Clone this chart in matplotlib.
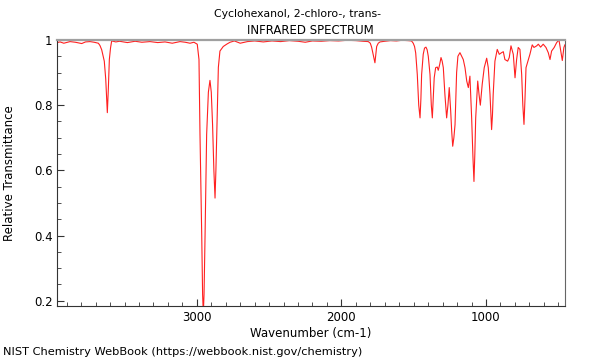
import numpy as np
import matplotlib
matplotlib.use("Agg")
import matplotlib.pyplot as plt
from matplotlib.ticker import MultipleLocator, FormatStrFormatter


# =========================
# Data
# =========================

compound = "Cyclohexanol, 2-chloro-, trans-"
subtitle = "INFRARED SPECTRUM"
footer = "NIST Chemistry WebBook (https://webbook.nist.gov/chemistry)"

wavenumber = [
    3965, 3946, 3920, 3877, 3840, 3796, 3770, 3739, 3710, 3681,
    3670, 3658, 3648, 3640, 3630, 3619, 3612, 3605, 3597, 3589,
    3560, 3535, 3480, 3427, 3380, 3324, 3270, 3220, 3170, 3116,
    3080, 3047, 3020, 2997, 2985, 2978, 2966, 2960, 2955, 2950,
    2943, 2932, 2920, 2909, 2900, 2891, 2882, 2874, 2868, 2862,
    2851, 2840, 2817, 2790, 2770, 2740, 2700, 2650, 2600, 2540,
    2480, 2420, 2360, 2300, 2250, 2200, 2140, 2080, 2020, 1960,
    1900, 1850, 1814, 1800, 1791, 1780, 1768, 1762, 1756, 1745,
    1733, 1700, 1660, 1620, 1580, 1540, 1515, 1503, 1494, 1486,
    1475, 1465, 1456, 1450, 1445, 1434, 1425, 1415, 1407, 1399,
    1387, 1378, 1371, 1364, 1358, 1348, 1337, 1330, 1320, 1311,
    1303, 1295, 1284, 1272, 1263, 1254, 1244, 1237, 1230, 1222,
    1214, 1203, 1194, 1180, 1168, 1157, 1145, 1133, 1122, 1111,
    1099, 1090, 1083, 1077, 1071, 1057, 1048, 1039, 1026, 1012,
    995, 984, 972, 966, 961, 955, 950, 938, 922, 908,
    892, 880, 869, 850, 839, 827, 811, 799, 788, 777,
    765, 753, 745, 737, 730, 723, 707, 696, 680, 668,
    649, 638, 622, 604, 585, 569, 557, 546, 528, 511,
    495, 483, 472, 461, 454,
]

transmittance = [
    0.992, 0.994, 0.990, 0.995, 0.993, 0.989, 0.994, 0.995, 0.993, 0.990,
    0.983, 0.970, 0.950, 0.935, 0.880, 0.777, 0.850, 0.940, 0.975, 0.997,
    0.994, 0.996, 0.992, 0.996, 0.993, 0.995, 0.992, 0.994, 0.990, 0.995,
    0.993, 0.990, 0.993, 0.987, 0.940, 0.710, 0.400, 0.220, 0.160, 0.220,
    0.400, 0.710, 0.840, 0.876, 0.840, 0.740, 0.600, 0.515, 0.600, 0.710,
    0.916, 0.966, 0.980, 0.988, 0.993, 0.997, 0.990, 0.995, 0.997, 0.994,
    0.997, 0.995, 0.998, 0.996, 0.993, 0.997, 0.996, 0.998, 0.997, 0.999,
    0.998, 0.996, 0.995, 0.990, 0.978, 0.955, 0.930, 0.955, 0.980, 0.990,
    0.994, 0.996, 0.998, 0.997, 0.999, 0.998, 0.997, 0.990, 0.980, 0.960,
    0.894, 0.800, 0.761, 0.820, 0.894, 0.956, 0.975, 0.978, 0.970, 0.950,
    0.894, 0.800, 0.761, 0.830, 0.884, 0.915, 0.917, 0.907, 0.925, 0.946,
    0.935, 0.915, 0.833, 0.761, 0.800, 0.854, 0.782, 0.720, 0.674, 0.700,
    0.740, 0.900, 0.950, 0.961, 0.950, 0.940, 0.915, 0.874, 0.854, 0.889,
    0.761, 0.640, 0.566, 0.650, 0.761, 0.874, 0.833, 0.800, 0.864, 0.915,
    0.944, 0.915, 0.833, 0.770, 0.725, 0.770, 0.833, 0.935, 0.971, 0.956,
    0.961, 0.964, 0.940, 0.935, 0.946, 0.982, 0.956, 0.884, 0.940, 0.977,
    0.971, 0.894, 0.800, 0.741, 0.820, 0.915, 0.940, 0.956, 0.985, 0.977,
    0.982, 0.987, 0.978, 0.987, 0.977, 0.961, 0.940, 0.966, 0.977, 0.992,
    1.000, 0.966, 0.937, 0.977, 0.985,
]

x_ticks = [3000, 2000, 1000]
y_ticks = [0.2, 0.4, 0.6, 0.8, 1.0]


# =========================
# Plot
# =========================

plt.rcParams["font.family"] = "DejaVu Sans"
plt.rcParams["font.size"] = 8.5

fig = plt.figure(figsize=(6, 3.6), dpi=100)
ax = fig.add_axes([0.0955, 0.15, 0.846, 0.739])

ax.plot(wavenumber, transmittance, color="#ff2020", linewidth=0.8)

ax.set_xlim(3965, 454)
ax.set_ylim(0.184, 1.0)

ax.set_xticks(x_ticks)
ax.set_yticks(y_ticks)
ax.xaxis.set_minor_locator(MultipleLocator(100))
ax.yaxis.set_minor_locator(MultipleLocator(0.05))
ax.yaxis.set_major_formatter(FormatStrFormatter("%g"))

ax.tick_params(which="both", direction="in", top=False, right=False,
               color="#333333", labelsize=8.5)
ax.tick_params(which="major", length=5)
ax.tick_params(which="minor", length=3)

ax.spines["left"].set_color("#333333")
ax.spines["bottom"].set_color("#333333")
ax.spines["top"].set_color("#a0a0a0")
ax.spines["top"].set_linewidth(1.6)
ax.spines["right"].set_color("#666666")

ax.set_xlabel("Wavenumber (cm-1)", fontsize=8.5, labelpad=2)
ax.set_ylabel("Relative Transmittance", fontsize=8.5)
ax.yaxis.set_label_coords(-0.081, 0.5)

fig.text(0.495, 0.962, compound, ha="center", va="center", fontsize=7.8)
fig.text(0.518, 0.915, subtitle, ha="center", va="center", fontsize=8.5)
fig.text(0.005, 0.022, footer, ha="left", va="center", fontsize=8.2)

plt.savefig("out.png", dpi=100)
plt.close()
